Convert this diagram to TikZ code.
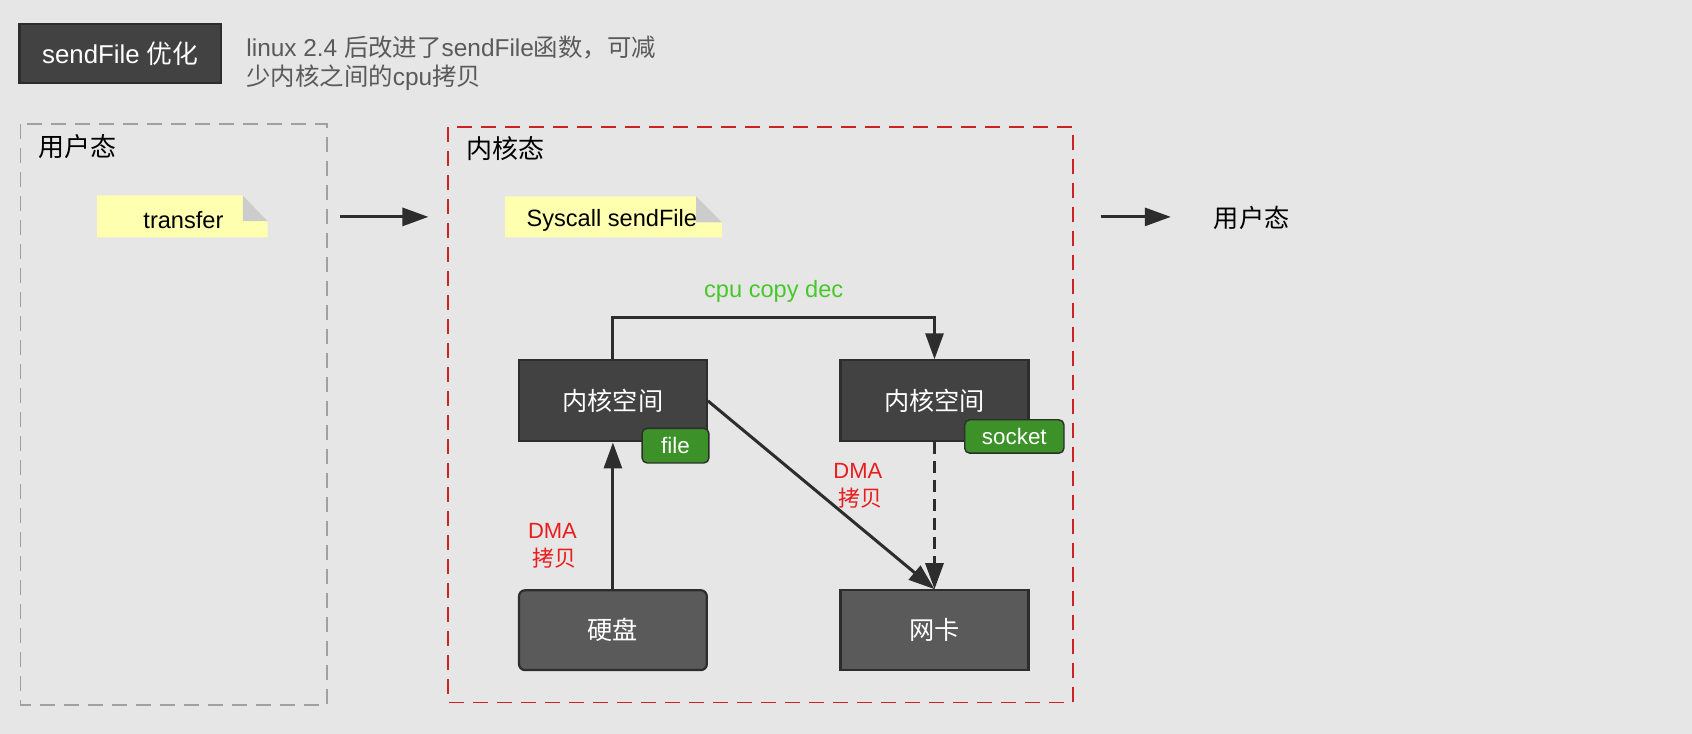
\documentclass[tikz,border=0pt]{standalone}
\usepackage{fontspec}
\setmainfont{Liberation Sans}
\newfontfamily\cjk{Noto Sans CJK SC}
\usetikzlibrary{arrows.meta}
\newcommand\zh[1]{{\cjk #1}}
\definecolor{bg}{RGB}{230,230,230}
\definecolor{darkbox}{RGB}{66,66,66}
\definecolor{midbox}{RGB}{90,90,90}
\definecolor{boxline}{RGB}{45,45,45}
\definecolor{tag}{RGB}{60,145,40}
\definecolor{noteyellow}{RGB}{255,255,176}
\definecolor{notefold}{RGB}{204,204,204}
\definecolor{kred}{RGB}{204,34,34}
\definecolor{ugray}{RGB}{160,160,160}
\definecolor{greentext}{RGB}{70,200,40}
\definecolor{redtext}{RGB}{232,30,30}
\definecolor{desc}{RGB}{90,90,90}
\definecolor{arrowc}{RGB}{45,45,45}
\tikzset{
  fs/.style={font=\fontsize{#1}{#1}\selectfont},
  titlebox/.style={draw=boxline, line width=1.1pt, fill=darkbox, text=white,
    minimum width=100.9pt, minimum height=29.7pt, inner sep=0pt, fs=12.9},
  kbox/.style={draw=boxline, line width=1.1pt, fill=darkbox, text=white,
    minimum width=93.9pt, minimum height=40.5pt, inner sep=0pt, fs=12.6},
  devbox/.style={draw=boxline, line width=1.1pt, fill=midbox, text=white,
    minimum width=93.9pt, minimum height=39.9pt, inner sep=0pt, fs=12.6},
  tagbox/.style={draw=boxline, line width=0.7pt, fill=tag, text=white,
    rounded corners=2.5pt, inner sep=0pt, fs=11.2},
  arr/.style={draw=arrowc, line width=1.5pt,
    -{Triangle[length=13pt,width=9pt]}},
  lbl/.style={inner sep=0pt, fs=13},
  redlbl/.style={text=redtext, align=right, inner sep=0pt, anchor=east,
    font=\fontsize{11}{13.8}\selectfont},
  notetext/.style={inner sep=0pt, fs=11.8, text=black},
}
\begin{document}
\begin{tikzpicture}[x=0.5395pt, y=-0.5395pt]
\useasboundingbox[fill=bg] (0,0) rectangle (1568,680);

% title
\node[titlebox] (title) at (111.5,49.5) {sendFile \zh{优化}};
\node[anchor=west, align=left, text=desc, inner sep=0pt,
  font=\fontsize{12.2}{14.6}\selectfont] (descr) at (228,58.5)
  {linux 2.4 \zh{后改进了}sendFile\zh{函数，可减}\\\zh{少内核之间的}cpu\zh{拷贝}};

% regions
\draw[ugray, line width=0.9pt, dash pattern=on 7.5pt off 4.5pt] (19,115) rectangle (303,653);
\draw[kred, line width=0.9pt, dash pattern=on 7.5pt off 4.5pt] (415,118) rectangle (994,651);
\node[lbl, anchor=west] (ulabel) at (35,136) {\zh{用户态}};
\node[lbl, anchor=west] (klabel) at (432,138) {\zh{内核态}};

% notes
\fill[noteyellow] (90,181) -- (225,181) -- (248,205) -- (248,220) -- (90,220) -- cycle;
\fill[notefold] (225,181) -- (225,205) -- (248,205) -- cycle;
\node[notetext] (transfer) at (170,204) {transfer};
\fill[noteyellow] (468,182) -- (645,182) -- (669,206) -- (669,220) -- (468,220) -- cycle;
\fill[notefold] (645,182) -- (645,206) -- (669,206) -- cycle;
\node[notetext] (syscall) at (567,204) {Syscall sendFile};

% top arrows
\coordinate (a1s) at (315,201);
\coordinate (a1e) at (397,201);
\draw[arr] (a1s) -- (a1e);
\coordinate (a2s) at (1020,201);
\coordinate (a2e) at (1085,201);
\draw[arr] (a2s) -- (a2e);
\node[inner sep=0pt, fs=12.6] (uright) at (1160,202) {\zh{用户态}};

% boxes
\node[kbox] (k1) at (568,371.5) {\zh{内核空间}};
\node[kbox] (k2) at (866,371.5) {\zh{内核空间}};
\node[devbox, rounded corners=3pt] (disk) at (568,584) {\zh{硬盘}};
\node[devbox] (nic) at (866,584) {\zh{网卡}};
\node[tagbox, minimum width=33.4pt, minimum height=17.3pt] (file) at (626,413) {file};
\node[tagbox, minimum width=49.6pt, minimum height=16.7pt] (socket) at (940,404.5) {socket};

% connectors
\draw[arr] (disk.north) -- (k1.south);
\draw[arr] (k1.north) -- ++(0,-39) -| (k2.north);
\draw[arr] (k1.east) -- (nic.north);
\draw[arr, dash pattern=on 6pt off 3.5pt] (k2.south) -- (nic.north);

% labels
\node[text=greentext, inner sep=0pt, fs=11.8] (cpu) at (717,270) {cpu copy dec};
\node[redlbl] (dma1) at (535,506) {DMA\\\zh{拷贝}};
\node[redlbl] (dma2) at (818,450) {DMA\\\zh{拷贝}};
\end{tikzpicture}
\end{document}
